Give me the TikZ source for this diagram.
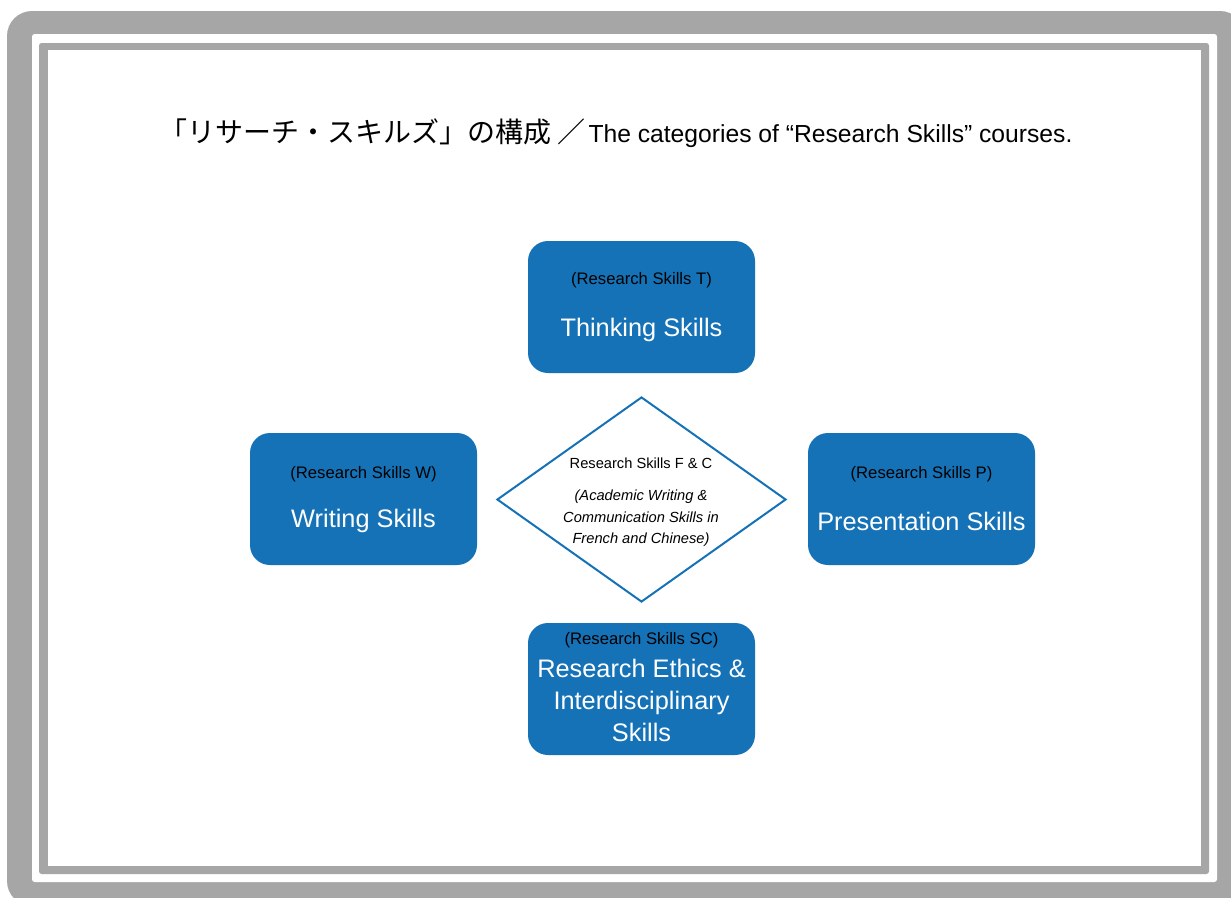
\documentclass[tikz,border=0pt]{standalone}
\usepackage{fontspec}
\setmainfont{Liberation Sans}
\newfontfamily\jpfont{Noto Sans CJK JP}
\usetikzlibrary{shapes.geometric}
\definecolor{skillblue}{RGB}{22,114,183}
\definecolor{framegray}{RGB}{166,166,166}
\tikzset{
	skillbox/.style={fill=skillblue, rounded corners=15pt, minimum width=170.25pt, minimum height=99pt, inner sep=0pt},
	tagtext/.style={font=\fontsize{12.5}{15}\selectfont, text=black, inner sep=0pt},
	nametext/.style={font=\fontsize{19}{24}\selectfont, text=white, align=center, inner sep=0pt},
	corebox/.style={diamond, draw=skillblue, line width=1.5pt, fill=white, minimum width=216.75pt, minimum height=153.75pt, inner sep=0pt},
	coretext/.style={font=\fontsize{11}{16}\selectfont, align=center, inner sep=0pt}
}
\begin{document}
\begin{tikzpicture}[x=0.75pt, y=-0.75pt]
	\useasboundingbox (0,0) rectangle (1231,897);
	\clip (0,0) rectangle (1231,897);
	\fill[white] (0,0) rectangle (1231,897);
	
	\fill[framegray, rounded corners=18.75pt] (7,11) rectangle (1245,906);
	\fill[white, rounded corners=2pt] (32,34) rectangle (1217,882);
	\fill[framegray, rounded corners=2pt] (39,43) rectangle (1209,874);
	\fill[white] (48,50) rectangle (1201,866);
	
	\node[font=\fontsize{18.5}{24}\selectfont, inner sep=0pt] (title) at (616,133) {{\jpfont\fontsize{21}{24}\selectfont 「リサーチ・スキルズ」の構成 ／}\hspace{2pt}The categories of “Research Skills” courses.};
	
	\node[skillbox] (T) at (641.5,307) {};
	\node[tagtext] (Ttag) at (641.5,280) {(Research Skills T)};
	\node[nametext] (Tname) at (641.5,330) {Thinking Skills};
	
	\node[skillbox] (W) at (363.5,499) {};
	\node[tagtext] (Wtag) at (363.5,474) {(Research Skills W)};
	\node[nametext] (Wname) at (363.5,521) {Writing Skills};
	
	\node[skillbox] (P) at (921.5,499) {};
	\node[tagtext] (Ptag) at (921.5,474) {(Research Skills P)};
	\node[nametext] (Pname) at (921.5,521) {Presentation Skills};
	
	\node[skillbox] (SC) at (641.5,689) {};
	\node[tagtext] (SCtag) at (641.5,640) {(Research Skills SC)};
	\node[nametext] (SCname) at (641.5,700) {Research Ethics \&\\Interdisciplinary\\Skills};
	
	\node[corebox] (FC) at (641.5,499.5) {};
	\node[coretext] (FCtag) at (641,463) {Research Skills F \& C};
	\node[coretext, font=\fontsize{11}{16}\selectfont\itshape] (FCname) at (641,518.5) {(Academic Writing \&\\Communication Skills in\\French and Chinese)};
\end{tikzpicture}
\end{document}
